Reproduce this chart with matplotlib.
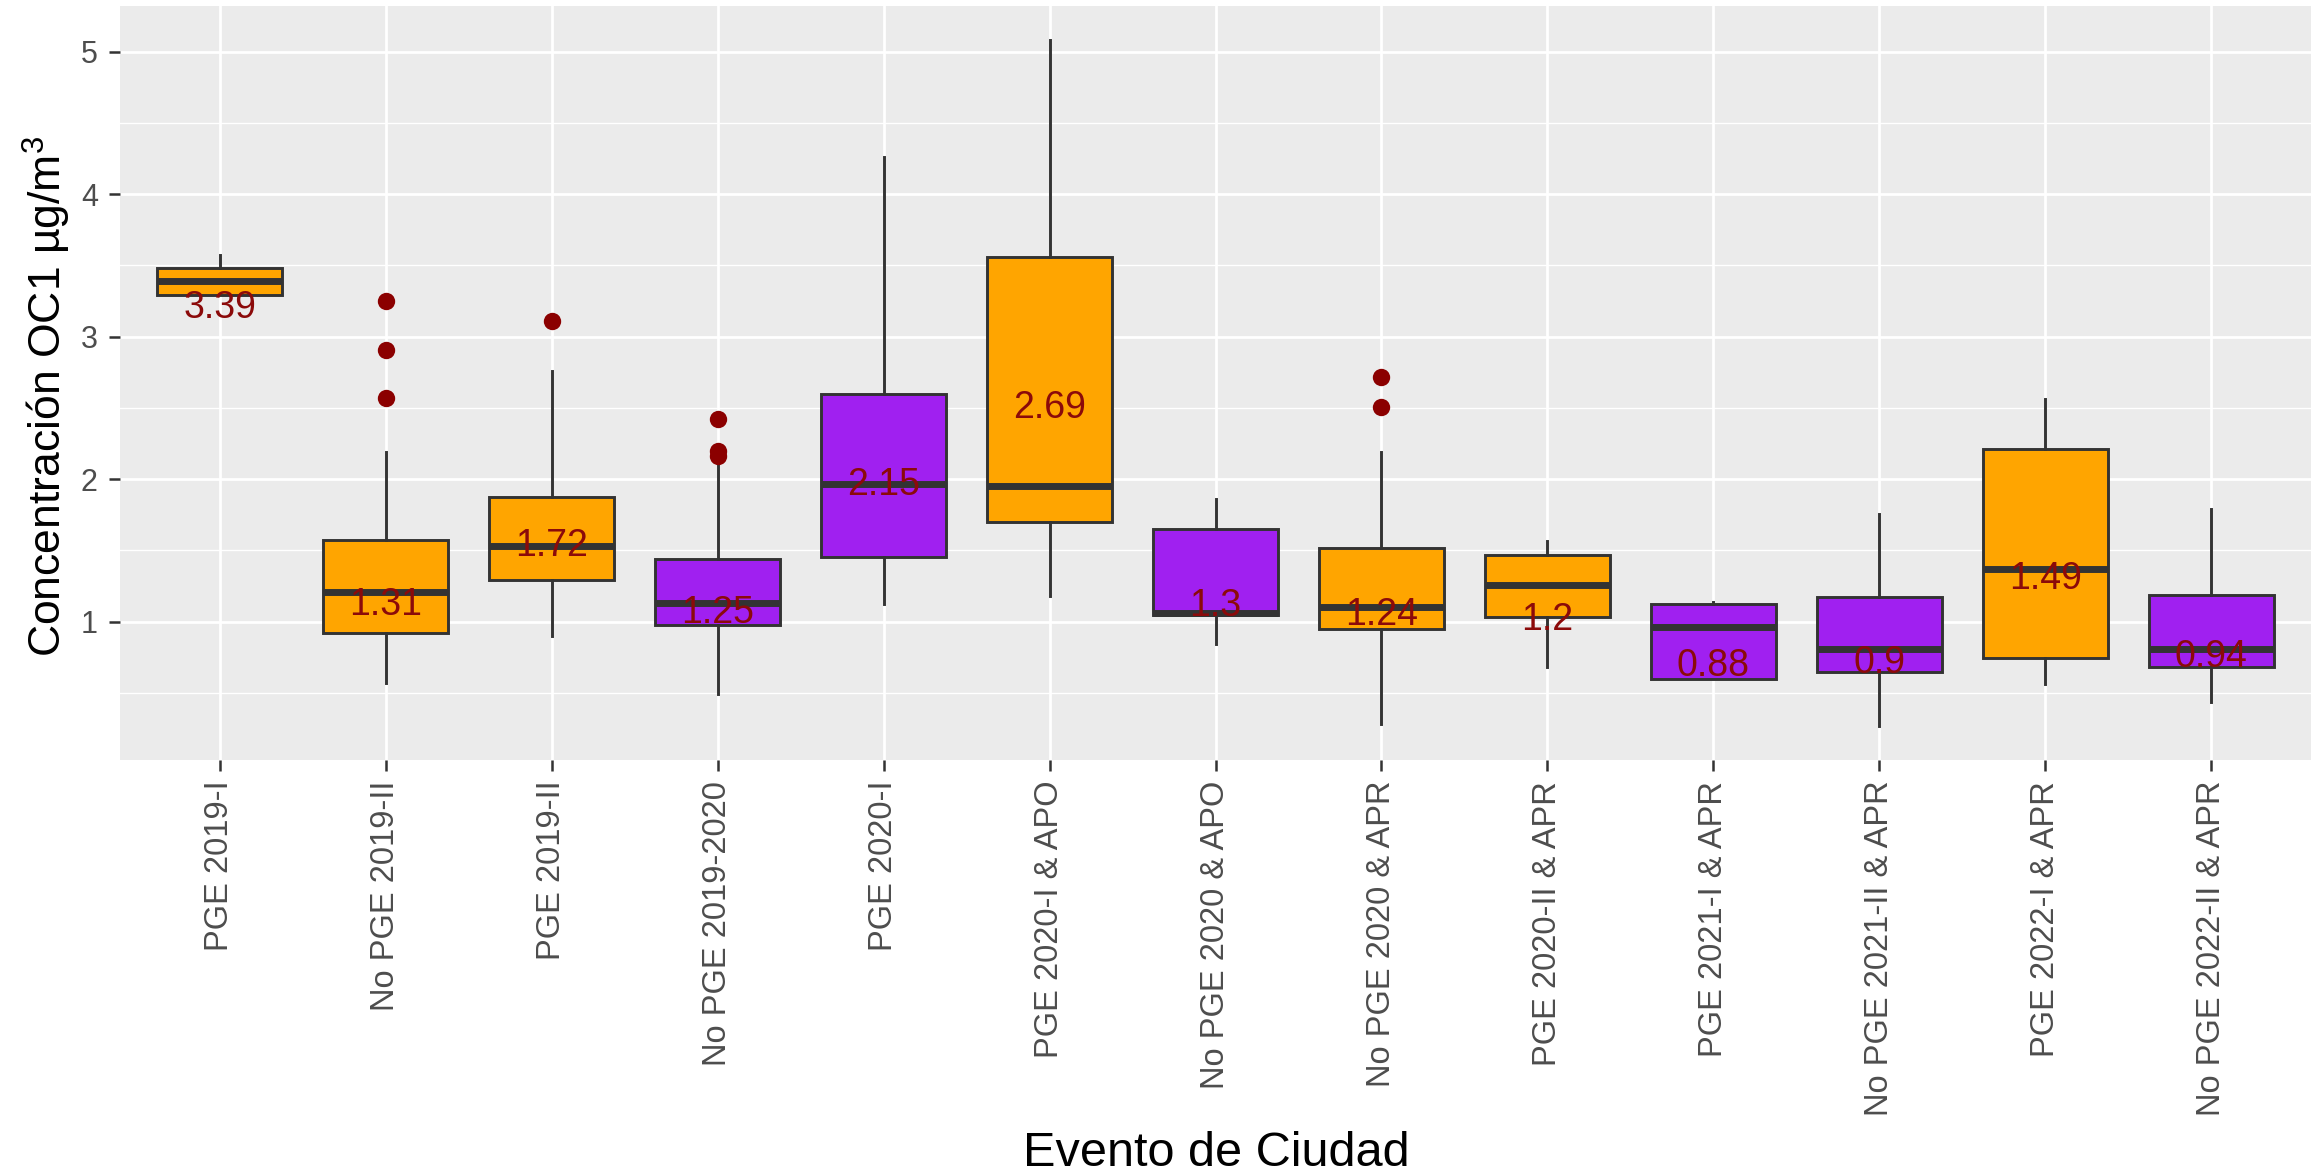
import matplotlib
matplotlib.use("Agg")
import matplotlib.pyplot as plt
from matplotlib.ticker import MultipleLocator

plt.rcParams['font.family'] = ['Liberation Sans', 'DejaVu Sans']
plt.rcParams['mathtext.fontset'] = 'custom'
plt.rcParams['mathtext.rm'] = 'Liberation Sans'

categorias = ['PGE 2019-I', 'No PGE 2019-II', 'PGE 2019-II', 'No PGE 2019-2020',
              'PGE 2020-I', 'PGE 2020-I & APO', 'No PGE 2020 & APO', 'No PGE 2020 & APR',
              'PGE 2020-II & APR', 'PGE 2021-I & APR', 'No PGE 2021-II & APR',
              'PGE 2022-I & APR', 'No PGE 2022-II & APR']

# resumen de cada caja
bigote_inf = [3.29, 0.57, 0.90, 0.49, 1.125, 1.18, 0.84, 0.28, 0.68, 0.60, 0.27, 0.56, 0.435]
q1 = [3.29, 0.92, 1.295, 0.98, 1.455, 1.70, 1.045, 0.95, 1.03, 0.60, 0.65, 0.745, 0.68]
mediana = [3.39, 1.21, 1.53, 1.13, 1.965, 1.95, 1.06, 1.10, 1.255, 0.96, 0.81, 1.37, 0.81]
q3 = [3.48, 1.57, 1.875, 1.44, 2.60, 3.56, 1.65, 1.52, 1.466, 1.126, 1.17, 2.21, 1.19]
bigote_sup = [3.57, 2.19, 2.76, 2.10, 4.26, 5.08, 1.86, 2.19, 1.564, 1.14, 1.757, 2.565, 1.79]
atipicos = [[], [3.25, 2.91, 2.57], [3.11], [2.42, 2.20, 2.16], [], [], [], [2.72, 2.51],
            [], [], [], [], []]
medias = [3.39, 1.31, 1.72, 1.25, 2.15, 2.69, 1.3, 1.24, 1.2, 0.88, 0.9, 1.49, 0.94]
etiquetas = ['3.39', '1.31', '1.72', '1.25', '2.15', '2.69', '1.3', '1.24', '1.2',
             '0.88', '0.9', '1.49', '0.94']

NAR = '#FFA500'
MOR = '#A020F0'
colores = [NAR, NAR, NAR, MOR, MOR, NAR, MOR, NAR, NAR, MOR, MOR, NAR, MOR]

W, H = 2316, 1175
fig = plt.figure(figsize=(W / 100, H / 100), dpi=100)
ax = fig.add_axes([120 / W, (H - 760) / H, (2311 - 120) / W, (760 - 6) / H])
ax.set_facecolor('#EBEBEB')
for s in ax.spines.values():
    s.set_visible(False)

stats = []
for i in range(len(categorias)):
    stats.append(dict(whislo=bigote_inf[i], q1=q1[i], med=mediana[i], q3=q3[i],
                      whishi=bigote_sup[i], fliers=atipicos[i]))

pos = list(range(1, len(categorias) + 1))
bp = ax.bxp(stats, positions=pos, widths=0.75, patch_artist=True, showcaps=False,
            boxprops=dict(edgecolor='#333333', linewidth=2.1),
            whiskerprops=dict(color='#333333', linewidth=2.1),
            medianprops=dict(color='#333333', linewidth=5.0),
            flierprops=dict(marker='o', markerfacecolor='#8B0000', markeredgecolor='#8B0000',
                            markersize=12.5, markeredgewidth=0))
for patch, c in zip(bp['boxes'], colores):
    patch.set_facecolor(c)

for x, m, t in zip(pos, medias, etiquetas):
    ax.annotate(t, (x, m), xytext=(0, -19.5), textcoords='offset points',
                ha='center', va='center', fontsize=27, color='#8B0A0A', zorder=5)

todos = bigote_inf + bigote_sup + [v for o in atipicos for v in o]
lo, hi = min(todos), max(todos)
r = hi - lo
ax.set_ylim(lo - 0.05 * r, hi + 0.05 * r)
ax.set_xlim(0.4, len(categorias) + 0.6)

ax.yaxis.set_major_locator(MultipleLocator(1))
ax.yaxis.set_minor_locator(MultipleLocator(0.5))
ax.set_xticks(pos)
ax.set_xticklabels(categorias, rotation=90)
ax.grid(which='major', color='white', linewidth=2.0)
ax.grid(which='minor', axis='y', color='white', linewidth=1.0)
ax.set_axisbelow(True)

ax.tick_params(axis='both', which='major', color='#333333', length=8, width=1.8,
               labelcolor='#4D4D4D')
ax.tick_params(axis='x', labelsize=23.5, pad=7)
ax.tick_params(axis='y', labelsize=22, pad=8)
ax.tick_params(axis='y', which='minor', length=0)

fig.text(47 / W, 1 - 396 / H, 'Concentración OC1 µg/m$^3$', rotation=90,
         ha='center', va='center', fontsize=32, color='black')
fig.text(1216 / W, (H - 1166) / H, 'Evento de Ciudad', ha='center', va='baseline',
         fontsize=35, color='black')

fig.savefig('out.png', dpi=100)
